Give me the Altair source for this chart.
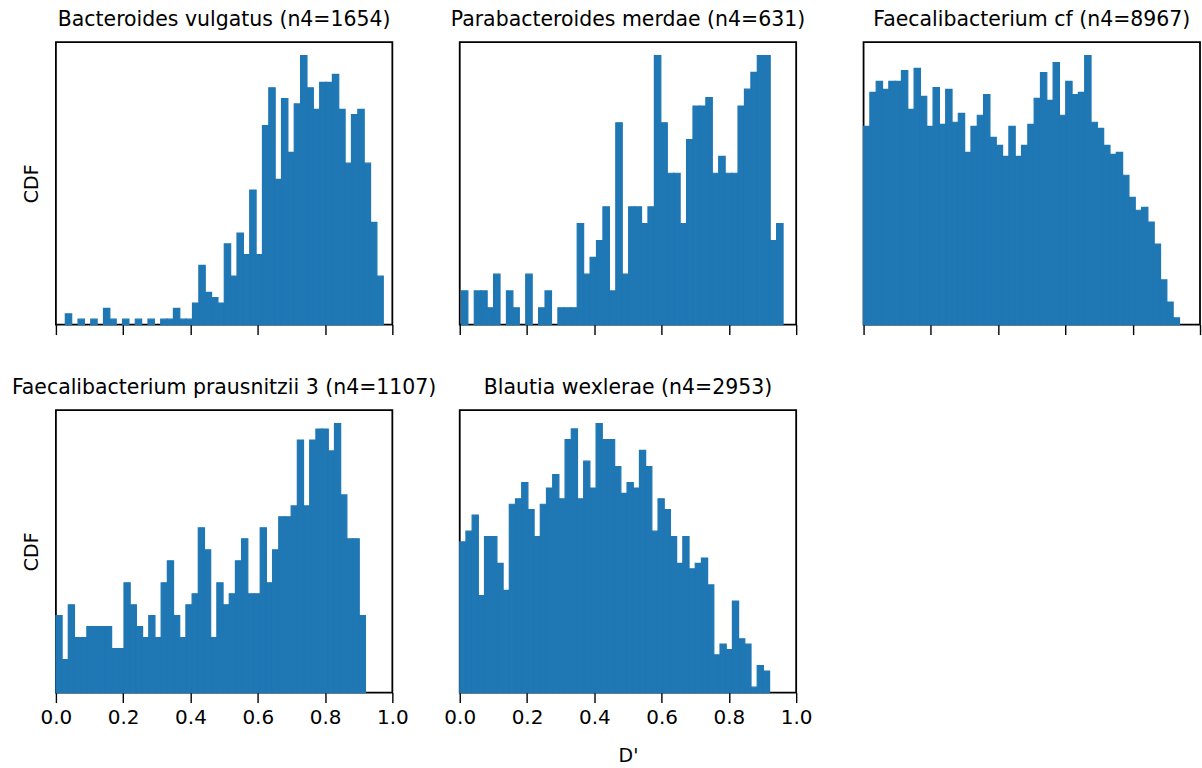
import altair as alt
import pandas as pd

FONT = "DejaVu Sans"
BLUE = "#1f77b4"

species = [
    "Bacteroides vulgatus",
    "Parabacteroides merdae",
    "Faecalibacterium cf",
    "Faecalibacterium prausnitzii 3",
    "Blautia wexlerae",
]
n4 = [1654, 631, 8967, 1107, 2953]

# D' range covered by each histogram (50 equal bins between min and max)
d_min = [0.028, 0.005, 0.0, 0.0, 0.0]
d_max = [0.973, 0.961, 0.939, 0.920, 0.921]

counts_vulgatus = [
    2, 0, 1, 0, 1, 0, 3, 1, 0, 1,
    0, 1, 0, 1, 0, 1, 1, 3, 1, 1,
    4, 11, 6, 5, 4, 15, 9, 17, 13, 25,
    13, 37, 44, 27, 42, 32, 41, 50, 44, 40,
    45, 45, 46.5, 40, 30, 39, 40, 30, 19, 9,
]
counts_merdae = [
    2, 0, 2, 2, 1, 3, 0, 2, 1, 0,
    3, 0, 1, 2, 0, 1, 1, 1, 6, 3,
    4, 5, 7, 2, 12, 3, 7, 7, 6, 7,
    16, 12, 9, 9, 6, 11, 13, 13, 13.5, 9,
    10, 9, 9, 13, 14, 15, 16, 16, 5, 6,
]
counts_faecali_cf = [
    73.7, 86.3, 90.4, 87.4, 90.4, 90.4, 94.4, 80.0, 95.2, 84.8,
    73.7, 88.1, 74.4, 87.4, 75.2, 78.5, 64.0, 73.7, 77.8, 85.5,
    69.6, 66.6, 62.5, 73.7, 62.5, 66.6, 74.4, 84.1, 93.7, 83.3,
    97.4, 77.8, 90.4, 85.5, 86.3, 100.0, 75.2, 72.9, 66.6, 63.3,
    64.0, 55.5, 47.3, 42.5, 43.6, 38.1, 29.9, 16.6, 8.4, 2.5,
]
counts_prausnitzii = [
    7, 3, 8, 5, 5, 6, 6, 6, 6, 4,
    4, 10, 8, 6, 5, 7, 5, 10, 12, 7,
    5, 8, 9, 15, 13, 5, 10, 8, 9, 12,
    14, 9, 9, 15, 10, 13, 16, 16, 17, 23,
    17, 23, 24, 24, 22, 24.5, 18, 14, 14, 7,
]
counts_wexlerae = [
    28, 30, 33, 18, 29, 29, 24, 19, 35, 36,
    39, 34, 29, 35, 38, 40.5, 36, 47, 49, 36,
    43, 38, 50, 47, 47, 42, 37, 39, 38, 45,
    42, 30, 36, 34, 29, 24, 29, 23, 24, 25,
    20, 7, 9, 8, 17, 10, 9, 1, 5, 4,
]
counts = [counts_vulgatus, counts_merdae, counts_faecali_cf,
          counts_prausnitzii, counts_wexlerae]

x_ticks = [0.0, 0.2, 0.4, 0.6, 0.8, 1.0]

PANEL_W = 337
PANEL_H = 283


def histogram(i, first_col, bottom_row, xlabel):
    c = counts[i]
    lo, hi = d_min[i], d_max[i]
    step = (hi - lo) / len(c)
    df = pd.DataFrame({
        "start": [lo + k * step for k in range(len(c))],
        "end": [lo + (k + 1) * step for k in range(len(c))],
        "count": c,
        "base": [0] * len(c),
    })
    df = df[df["count"] > 0]
    ymax = max(c) * 1.05

    x_axis_args = dict(
        values=x_ticks, format=".1f", labels=bottom_row, grid=False,
        domain=False, ticks=True, tickSize=10, tickWidth=1.4,
        tickColor="black", labelFont=FONT, labelFontSize=20,
        labelColor="black", labelPadding=5, labelFlush=False,
        titleFont=FONT, titleFontSize=19, titleFontWeight="normal",
        titleColor="black", titlePadding=19,
    )
    x_enc = alt.X(
        "start:Q",
        title=xlabel if xlabel else None,
        scale=alt.Scale(domain=[0, 1], nice=False, zero=False),
        axis=alt.Axis(**x_axis_args),
    )
    y_scale = alt.Scale(domain=[0, ymax], nice=False)
    if first_col:
        y_enc = alt.Y(
            "count:Q", title="CDF", scale=y_scale,
            axis=alt.Axis(labels=False, ticks=False, domain=False, grid=False,
                          titleFont=FONT, titleFontSize=19,
                          titleFontWeight="normal", titleColor="black",
                          titlePadding=14),
        )
    else:
        y_enc = alt.Y("count:Q", scale=y_scale, axis=None)

    return (
        alt.Chart(df)
        .mark_rect(color=BLUE, stroke=BLUE, strokeWidth=1.2)
        .encode(x=x_enc, x2="end:Q", y=y_enc, y2="base:Q")
        .properties(
            width=PANEL_W,
            height=PANEL_H,
            title=alt.TitleParams(
                text=f"{species[i]} (n4={n4[i]})",
                font=FONT, fontSize=20.5, fontWeight="normal",
                color="black", anchor="middle", offset=12,
            ),
        )
    )


panels = [
    histogram(0, True, False, ""),
    histogram(1, False, False, ""),
    histogram(2, False, False, ""),
    histogram(3, True, True, ""),
    histogram(4, False, True, "D'"),
]

chart = (
    alt.concat(*panels, columns=3, spacing={"row": 85.6, "column": 67.5},
               bounds="flush")
    .properties(padding={"left": 10, "top": 7.5, "right": 0, "bottom": 5},
                background="white")
    .configure_view(stroke="black", strokeWidth=1.8)
)

chart.save("out.html", embed_options={"renderer": "svg", "actions": False})
